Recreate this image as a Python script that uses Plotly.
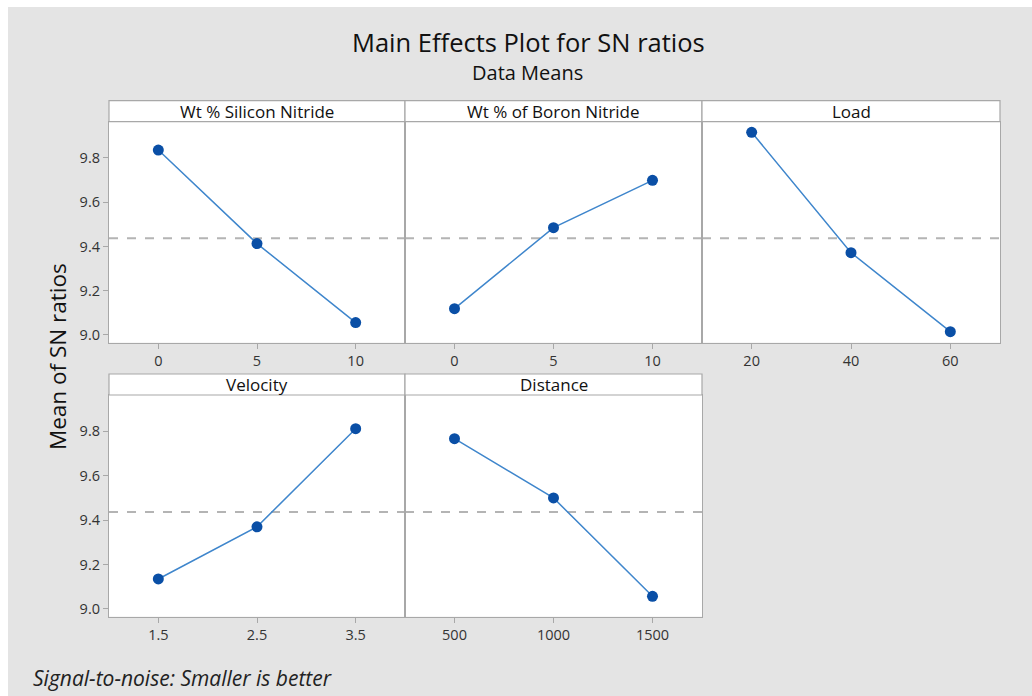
import numpy as np
import plotly.graph_objects as go

# ---- data ----
factors = ["Wt % Silicon Nitride", "Wt % of Boron Nitride", "Load", "Velocity", "Distance"]
levels_si = ["0", "5", "10"]
levels_bn = ["0", "5", "10"]
levels_load = ["20", "40", "60"]
levels_vel = ["1.5", "2.5", "3.5"]
levels_dist = ["500", "1000", "1500"]
sn_si = [9.836, 9.413, 9.056]
sn_bn = [9.119, 9.485, 9.699]
sn_load = [9.916, 9.372, 9.015]
sn_vel = [9.135, 9.370, 9.812]
sn_dist = [9.767, 9.500, 9.057]
y_ticks = [9.0, 9.2, 9.4, 9.6, 9.8]

levels = [levels_si, levels_bn, levels_load, levels_vel, levels_dist]
values = [sn_si, sn_bn, sn_load, sn_vel, sn_dist]
grand_mean = float(np.mean(np.concatenate([np.array(v) for v in values])))

W, H = 1032, 696
def px(x):
    return x / W
def py(y):
    return 1 - y / H

# panel pixel geometry
cols = [(109, 405), (405, 702), (702, 1000)]
rows = [(121.7, 342.7), (395, 616.7)]
positions = [(0, 0), (0, 1), (0, 2), (1, 0), (1, 1)]
strip_h = 21

GRID = "#a8a8a8"
BG = "#e4e4e4"
LINE_C = "#3f86cc"
MARK_C = "#0a4fa6"
FONT = "Open Sans, Noto Sans, sans-serif"
yrange = [8.965, 9.964]

fig = go.Figure()
layout = dict(
    width=W, height=H,
    margin=dict(l=0, r=0, t=0, b=0),
    paper_bgcolor=BG, plot_bgcolor="white",
    showlegend=False,
    font=dict(family=FONT, color="#222"),
)
shapes = []
annotations = []

# white outer border strips (top and left)
shapes.append(dict(type="rect", xref="paper", yref="paper", x0=0, x1=1, y0=py(7), y1=1,
                   fillcolor="white", line=dict(width=0), layer="below"))
shapes.append(dict(type="rect", xref="paper", yref="paper", x0=0, x1=px(8), y0=0, y1=1,
                   fillcolor="white", line=dict(width=0), layer="below"))

for i, (r, c) in enumerate(positions):
    n = i + 1
    xa = "x" if n == 1 else f"x{n}"
    ya = "y" if n == 1 else f"y{n}"
    x0, x1 = cols[c]
    y0, y1 = rows[r]
    layout["xaxis" if n == 1 else f"xaxis{n}"] = dict(
        domain=[px(x0), px(x1)], anchor=ya, type="category",
        categoryorder="array", categoryarray=levels[i],
        range=[-0.5, 2.5], showgrid=False, zeroline=False,
        showline=True, mirror=True, linecolor=GRID, linewidth=1.2,
        ticks="outside", ticklen=5, tickcolor=GRID, tickwidth=1,
        tickfont=dict(size=14.5, color="#333"),
    )
    layout["yaxis" if n == 1 else f"yaxis{n}"] = dict(
        domain=[py(y1), py(y0)], anchor=xa, range=yrange,
        tickvals=y_ticks, ticktext=[f"{t:.1f}" for t in y_ticks],
        showticklabels=(c == 0), showgrid=False, zeroline=False,
        showline=True, mirror=True, linecolor=GRID, linewidth=1.2,
        ticks="outside" if c == 0 else "", ticklen=5, tickcolor=GRID, tickwidth=1,
        tickfont=dict(size=14.5, color="#333"),
    )
    # mean reference line
    shapes.append(dict(type="line", xref=f"{xa} domain", yref=ya, x0=0, x1=1,
                       y0=grand_mean, y1=grand_mean,
                       line=dict(color="#b4b4b4", width=2, dash="dash"), layer="below"))
    # strip header
    shapes.append(dict(type="rect", xref="paper", yref="paper",
                       x0=px(x0), x1=px(x1), y0=py(y0), y1=py(y0 - strip_h),
                       fillcolor="white", line=dict(color=GRID, width=1.2)))
    annotations.append(dict(text=factors[i], xref="paper", yref="paper",
                            x=px((x0 + x1) / 2), y=py(y0 - strip_h / 2),
                            xanchor="center", yanchor="middle", showarrow=False,
                            font=dict(size=17, color="#111")))
    fig.add_trace(go.Scatter(
        x=levels[i], y=values[i], xaxis=xa, yaxis=ya, mode="lines+markers",
        line=dict(color=LINE_C, width=1.5),
        marker=dict(color=MARK_C, size=11),
        hoverinfo="x+y",
    ))

annotations += [
    dict(text="Main Effects Plot for SN ratios", xref="paper", yref="paper",
         x=px(528), y=py(42), xanchor="center", yanchor="middle", showarrow=False,
         font=dict(size=25.5, color="#111")),
    dict(text="Data Means", xref="paper", yref="paper",
         x=px(527), y=py(73), xanchor="center", yanchor="middle", showarrow=False,
         font=dict(size=20, color="#111")),
    dict(text="Mean of SN ratios", xref="paper", yref="paper",
         x=px(57), y=py(357), xanchor="center", yanchor="middle", showarrow=False,
         textangle=-90, font=dict(size=22.5, color="#111")),
    dict(text="<i>Signal-to-noise: Smaller is better</i>", xref="paper", yref="paper",
         x=px(31), y=py(678), xanchor="left", yanchor="middle", showarrow=False,
         font=dict(size=21, color="#222")),
]

layout["shapes"] = shapes
layout["annotations"] = annotations
fig.update_layout(**layout)
fig.write_html(
    "out.html",
    config={"displayModeBar": False},
    post_script="document.body.style.margin='0';document.body.style.overflow='hidden';",
)
